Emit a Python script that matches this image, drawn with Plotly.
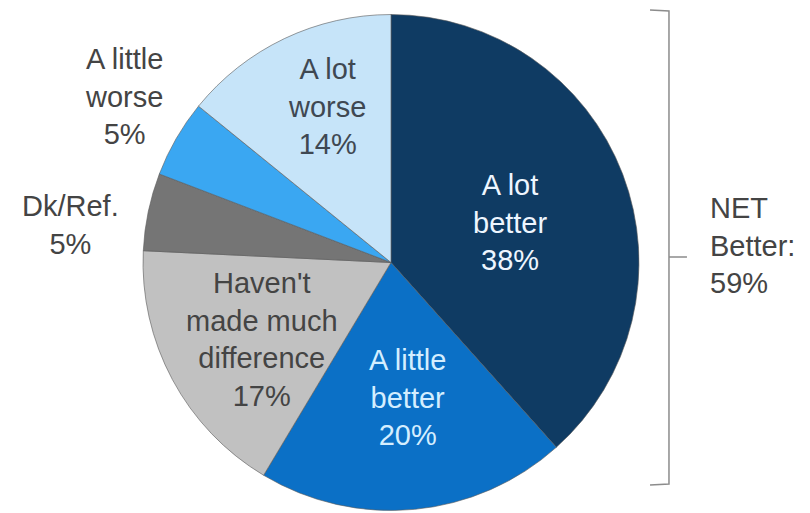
import plotly.graph_objects as go

labels = ["A lot better", "A little better", "Haven't made much difference", "Dk/Ref.", "A little worse", "A lot worse"]
values = [38, 20, 17, 5, 5, 14]
colors = ["#0f3b63", "#0b70c6", "#c1c1c1", "#757575", "#3aa7f2", "#c6e4f9"]
label_texts = ["A lot<br>better<br>38%", "A little<br>better<br>20%", "Haven't<br>made much<br>difference<br>17%",
               "Dk/Ref.<br>5%", "A little<br>worse<br>5%", "A lot<br>worse<br>14%"]
text_colors = ["#eef6ff", "#d4eeff", "#444444", "#444444", "#444444", "#3f4852"]
# label centres in pixels (x, y from top)
label_pos = [(510, 222), (408, 397), (262, 339), (70, 225), (124, 96), (327, 106)]
net_label = "NET<br>Better:<br>59%"

W, H = 810, 513
FONT = "Liberation Sans, Arial, sans-serif"

fig = go.Figure(go.Pie(
    labels=labels, values=values, sort=False, direction="clockwise", rotation=0,
    marker=dict(colors=colors, line=dict(color="rgba(90,90,90,0.6)", width=1)),
    textinfo="none", hoverinfo="label+percent", showlegend=False,
    domain=dict(x=[0.1765, 0.7889], y=[0.0049, 0.9717]),
))

annotations = []
for t, c, (px, py) in zip(label_texts, text_colors, label_pos):
    annotations.append(dict(text=t, x=px / W, y=1 - py / H, xref="paper", yref="paper",
                            showarrow=False, xanchor="center", yanchor="middle", align="center",
                            font=dict(family=FONT, size=29, color=c)))
annotations.append(dict(text=net_label, x=708 / W, y=1 - 245 / H, xref="paper", yref="paper",
                        showarrow=False, xanchor="left", yanchor="middle", align="left",
                        font=dict(family=FONT, size=29, color="#444444")))

def P(x, y):
    return f"{x / W:.4f},{1 - y / H:.4f}"

bracket = f"M{P(650, 10)} L{P(669, 11)} L{P(669, 484)} L{P(650, 485)} M{P(669, 257)} L{P(687, 257)}"

fig.update_layout(
    width=W, height=H, margin=dict(l=0, r=0, t=0, b=0),
    paper_bgcolor="white", plot_bgcolor="white",
    annotations=annotations,
    shapes=[dict(type="path", path=bracket, xref="paper", yref="paper",
                 line=dict(color="#8c8c8c", width=1.5))],
)

fig.write_html("out.html", config={"displayModeBar": False},
               post_script="document.body.style.margin='0';")
